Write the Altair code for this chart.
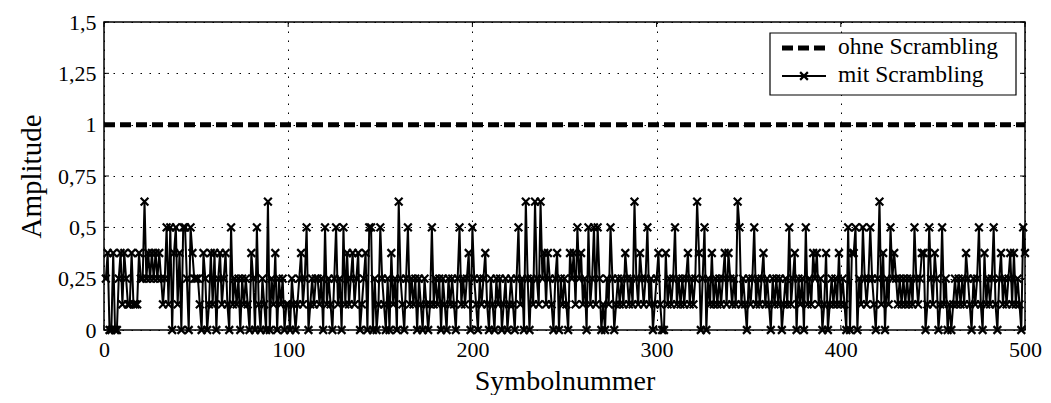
import altair as alt
import pandas as pd

# ---------------- data ----------------
mit_scrambling = [
    0.25, 0.375, 0, 0, 0.375, 0, 0, 0.25, 0.375, 0.125, 0.375, 0.25, 0.125, 0.125, 0.375, 0.125, 0.125, 0.125, 0.375, 0.25, 0.25, 0.625, 0.25, 0.375, 0.25,
    0.375, 0.25, 0.375, 0.25, 0.375, 0.25, 0.125, 0.25, 0.5, 0.125, 0.5, 0, 0.375, 0.5, 0.125, 0.375, 0, 0.5, 0.5, 0.25, 0, 0.5, 0.375, 0.25, 0.25,
    0.25, 0.125, 0, 0.375, 0.25, 0, 0.125, 0.375, 0.125, 0.375, 0, 0.25, 0.375, 0.125, 0.25, 0.375, 0.125, 0, 0.5, 0.125, 0.25, 0.125, 0.25, 0, 0.25,
    0.125, 0.25, 0.125, 0, 0.375, 0.25, 0, 0.5, 0.125, 0, 0.25, 0.125, 0, 0.625, 0, 0.25, 0.125, 0.375, 0, 0.25, 0.125, 0.25, 0, 0.125, 0.125,
    0, 0.25, 0.125, 0, 0.125, 0.25, 0.375, 0.125, 0.25, 0.5, 0, 0.125, 0.25, 0.125, 0.25, 0.25, 0.125, 0.25, 0, 0.5, 0.125, 0.25, 0.125, 0, 0.25,
    0.5, 0.125, 0.25, 0, 0.5, 0.125, 0.375, 0.125, 0.25, 0.375, 0.125, 0.25, 0.375, 0, 0.125, 0.25, 0.375, 0, 0.5, 0.5, 0, 0.25, 0, 0.125, 0.5,
    0.25, 0.125, 0, 0.25, 0, 0.375, 0.125, 0.25, 0, 0.625, 0.25, 0.125, 0, 0.25, 0.5, 0.125, 0.25, 0.125, 0.25, 0, 0.25, 0.125, 0, 0.25, 0.125,
    0, 0.125, 0.5, 0.125, 0.25, 0.125, 0.25, 0, 0.25, 0.125, 0, 0.25, 0.125, 0.25, 0.125, 0, 0.25, 0.5, 0.125, 0.25, 0.125, 0.25, 0.375, 0, 0.5,
    0.25, 0.125, 0, 0.25, 0.125, 0.25, 0.375, 0.125, 0, 0.25, 0.125, 0, 0.25, 0.125, 0.25, 0, 0.125, 0.25, 0, 0.125, 0.25, 0.125, 0, 0.25, 0.5,
    0.125, 0.25, 0, 0.625, 0.25, 0, 0.25, 0.125, 0.625, 0.25, 0.125, 0.625, 0.25, 0.375, 0.125, 0.375, 0.25, 0.125, 0, 0.25, 0.375, 0, 0.25, 0.125, 0.25,
    0.125, 0, 0.375, 0.25, 0.375, 0.125, 0.5, 0.25, 0.375, 0.125, 0.25, 0, 0.5, 0.125, 0.25, 0.5, 0.125, 0.5, 0.25, 0, 0.125, 0, 0.25, 0.125, 0.5,
    0.25, 0, 0.125, 0.25, 0.125, 0.25, 0.125, 0.375, 0.25, 0.125, 0.25, 0.125, 0.625, 0.25, 0.125, 0.375, 0.25, 0.125, 0.25, 0.5, 0.125, 0.25, 0, 0.125, 0.25,
    0.375, 0.125, 0, 0, 0.375, 0.125, 0.25, 0.125, 0.25, 0.5, 0.125, 0.25, 0.125, 0.25, 0.125, 0.25, 0.375, 0.125, 0.25, 0.125, 0.25, 0.625, 0.375, 0, 0.25,
    0.5, 0, 0.25, 0.125, 0.375, 0.125, 0.25, 0.125, 0.25, 0.125, 0.25, 0.375, 0.125, 0.375, 0.25, 0.125, 0.25, 0.125, 0.625, 0.5, 0.125, 0.25, 0.125, 0, 0.25,
    0.125, 0.25, 0.5, 0.125, 0.25, 0.125, 0.25, 0.375, 0.125, 0.25, 0.125, 0, 0.25, 0.125, 0.25, 0.125, 0.25, 0, 0.125, 0.25, 0.125, 0.5, 0.125, 0.25, 0.375,
    0, 0.25, 0.125, 0.25, 0, 0.5, 0.125, 0.25, 0.125, 0.375, 0.25, 0.375, 0.125, 0.25, 0, 0.125, 0.375, 0, 0.125, 0.25, 0.125, 0.25, 0.125, 0.375, 0.125,
    0.25, 0.125, 0, 0.5, 0, 0.375, 0.375, 0.5, 0, 0.25, 0.125, 0.5, 0.25, 0.125, 0.25, 0.5, 0.25, 0.125, 0, 0.25, 0.625, 0.125, 0.375, 0, 0.25,
    0.125, 0.5, 0.25, 0.375, 0.25, 0.125, 0.25, 0.125, 0.25, 0.125, 0.25, 0.125, 0.25, 0.125, 0.5, 0.25, 0.125, 0.25, 0.375, 0.375, 0, 0.125, 0.5, 0.25, 0.125,
    0.375, 0.25, 0, 0.125, 0.5, 0.125, 0.25, 0, 0.125, 0, 0.125, 0.25, 0.125, 0.25, 0.125, 0.25, 0.125, 0.375, 0.25, 0.125, 0, 0.25, 0.125, 0.25, 0.5,
    0.125, 0, 0.375, 0.125, 0.25, 0.125, 0.25, 0.5, 0.125, 0, 0.25, 0.375, 0.125, 0.25, 0.125, 0.25, 0.375, 0.125, 0.375, 0.125, 0.25, 0.125, 0, 0.5, 0.375,
]
symbolnummer = list(range(1, len(mit_scrambling) + 1))

ohne_x = [0, 500]
ohne_y = [1.0, 1.0]

x_ticks = [0, 100, 200, 300, 400, 500]
y_ticks = [0, 0.25, 0.5, 0.75, 1.0, 1.25, 1.5]

legend_labels = ["ohne Scrambling", "mit Scrambling"]

# ---------------- layout ----------------
W, H = 921, 308
FONT = "Times New Roman, Liberation Serif, DejaVu Serif, serif"
xs = alt.Scale(domain=[0, 500], nice=False, zero=False)
ys = alt.Scale(domain=[0, 1.5], nice=False)

df_mit = pd.DataFrame({"n": symbolnummer, "a": mit_scrambling})
df_ohne = pd.DataFrame({"n": ohne_x, "a": ohne_y})
df_xt = pd.DataFrame({"n": x_ticks})
df_yt = pd.DataFrame({"a": y_ticks})
one = pd.DataFrame({"k": [0]})

x_axis = alt.Axis(values=x_ticks, grid=True, gridDash=[1.5, 7.5], gridColor="black",
                  gridWidth=1, domain=False, ticks=False, labelFont=FONT,
                  labelFontSize=22, labelColor="black", labelPadding=9,
                  labelFlush=False, labelOverlap=False,
                  title="Symbolnummer", titleFont=FONT, titleFontSize=28,
                  titleFontWeight="normal", titleColor="black", titlePadding=7)
y_axis = alt.Axis(values=y_ticks, grid=True, gridDash=[1.5, 7.5], gridColor="black",
                  gridWidth=1, domain=False, ticks=False, labelFont=FONT,
                  labelFontSize=22, labelColor="black", labelPadding=8,
                  labelFlush=False, labelOverlap=False,
                  labelExpr="replace(toString(datum.value), '.', ',')",
                  title="Amplitude", titleFont=FONT, titleFontSize=29,
                  titleFontWeight="normal", titleColor="black", titlePadding=11)

X = alt.X("n:Q", scale=xs, axis=x_axis)
Y = alt.Y("a:Q", scale=ys, axis=y_axis)

ohne = alt.Chart(df_ohne).mark_line(color="black", strokeWidth=5, strokeDash=[11, 5]).encode(x=X, y=Y)

mit_line = alt.Chart(df_mit).mark_line(color="black", strokeWidth=2).encode(x=X, y=Y)
XSHAPE = "M -1 -1 L 1 1 M -1 1 L 1 -1"
mit_pts = alt.Chart(df_mit).mark_point(shape=XSHAPE, filled=False, color="black",
                                       strokeWidth=2.2, size=60, opacity=1).encode(x=X, y=Y)

tick_len = 5
tb = alt.Chart(df_xt).mark_rule(color="black", strokeWidth=1).encode(
    x=X, y=alt.value(H), y2=alt.value(H - tick_len))
tt = alt.Chart(df_xt).mark_rule(color="black", strokeWidth=1).encode(
    x=X, y=alt.value(0), y2=alt.value(tick_len))
tl = alt.Chart(df_yt).mark_rule(color="black", strokeWidth=1).encode(
    y=Y, x=alt.value(0), x2=alt.value(tick_len))
tr = alt.Chart(df_yt).mark_rule(color="black", strokeWidth=1).encode(
    y=Y, x=alt.value(W), x2=alt.value(W - tick_len))

# ---------------- legend ----------------
LX0, LX1, LY0, LY1 = 666, 912, 11, 73
box = alt.Chart(one).mark_rect(fill="white", stroke="black", strokeWidth=1.2).encode(
    x=alt.value(LX0), x2=alt.value(LX1), y=alt.value(LY0), y2=alt.value(LY1))
leg1_line = alt.Chart(one).mark_rule(color="black", strokeWidth=5, strokeDash=[11, 5]).encode(
    x=alt.value(678), x2=alt.value(722), y=alt.value(26))
leg2_line = alt.Chart(one).mark_rule(color="black", strokeWidth=2).encode(
    x=alt.value(678), x2=alt.value(722), y=alt.value(54))
leg2_pt = alt.Chart(one).mark_point(shape=XSHAPE, filled=False, color="black",
                                    strokeWidth=2.2, size=60, opacity=1).encode(
    x=alt.value(700), y=alt.value(54))
leg1_txt = alt.Chart(one).mark_text(align="left", baseline="middle", font=FONT,
                                    fontSize=23.5, color="black").encode(
    x=alt.value(734), y=alt.value(25), text=alt.value(legend_labels[0]))
leg2_txt = alt.Chart(one).mark_text(align="left", baseline="middle", font=FONT,
                                    fontSize=23.5, color="black").encode(
    x=alt.value(734), y=alt.value(53), text=alt.value(legend_labels[1]))

chart = alt.layer(
    ohne, mit_line, mit_pts, tb, tt, tl, tr,
    box, leg1_line, leg2_line, leg2_pt, leg1_txt, leg2_txt,
).properties(
    width=W, height=H,
    autosize=alt.AutoSizeParams(type="none"),
    padding={"left": 96, "top": 14, "right": 18, "bottom": 65},
    background="white",
).configure_view(stroke="black", strokeWidth=1.5)

chart.save("out.html", embed_options={"renderer": "svg", "actions": False})
